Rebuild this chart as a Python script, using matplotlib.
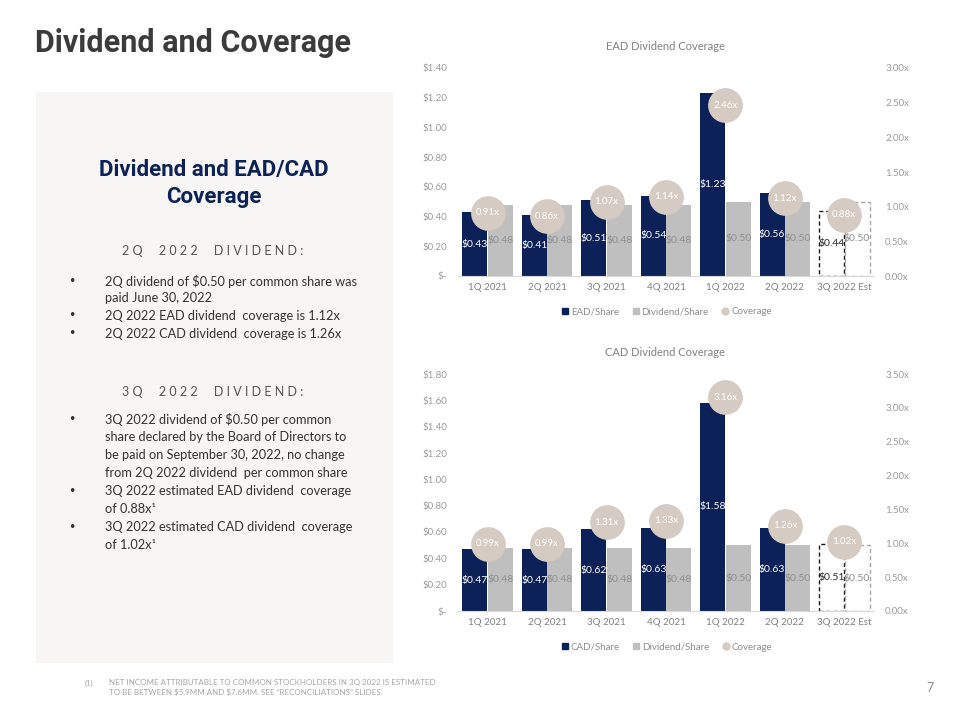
import matplotlib
matplotlib.use("Agg")
import matplotlib.pyplot as plt
from matplotlib.patches import Rectangle
from matplotlib.lines import Line2D

# ---- data ----
quarters = ["1Q 2021", "2Q 2021", "3Q 2021", "4Q 2021", "1Q 2022", "2Q 2022", "3Q 2022 Est"]
dividend_share = [0.48, 0.48, 0.48, 0.48, 0.50, 0.50, 0.50]
ead_share = [0.43, 0.41, 0.51, 0.54, 1.23, 0.56, 0.44]
ead_coverage = [0.91, 0.86, 1.07, 1.14, 2.46, 1.12, 0.88]
cad_share = [0.47, 0.47, 0.62, 0.63, 1.58, 0.63, 0.51]
cad_coverage = [0.99, 0.99, 1.31, 1.33, 3.16, 1.26, 1.02]

NAVY = "#0c2157"
GREY_BAR = "#bfbfbf"
BEIGE = "#d6cbc2"
TICK_GREY = "#9a9a9a"

W, H = 960, 720


def fx(x):
    return x / W


def fy(y):
    return 1 - y / H


fig = plt.figure(figsize=(9.6, 7.2), dpi=100)
fig.patch.set_facecolor("white")

# ---- slide title ----
fig.text(fx(35), fy(43), "Dividend and Coverage", fontsize=22, fontweight="bold",
         family="Roboto", color="#3b3b3b", va="center", ha="left")

# ---- left text panel ----
fig.patches.append(Rectangle((fx(36), fy(663)), fx(393) - fx(36), fy(92) - fy(663),
                             transform=fig.transFigure, facecolor="#f7f6f4",
                             edgecolor="none", zorder=0))

fig.text(fx(214), fy(170), "Dividend and EAD/CAD", fontsize=16, fontweight="bold",
         family="Roboto", color=NAVY, ha="center", va="center")
fig.text(fx(214), fy(197), "Coverage", fontsize=16, fontweight="bold",
         family="Roboto", color=NAVY, ha="center", va="center")


def spaced(s):
    return " ".join(s).replace("   ", "     ")


fig.text(fx(213), fy(251), spaced("2Q 2022 DIVIDEND:"), fontsize=9, family="Lato",
         color="#555555", ha="center", va="center")
fig.text(fx(213), fy(392), spaced("3Q 2022 DIVIDEND:"), fontsize=9, family="Lato",
         color="#555555", ha="center", va="center")

bullets_top = [
    (282, "2Q dividend of \\$0.50 per common share was", True),
    (298, "paid June 30, 2022", False),
    (316, "2Q 2022 EAD dividend  coverage is 1.12x", True),
    (334, "2Q 2022 CAD dividend  coverage is 1.26x", True),
]
bullets_bottom = [
    (419, "3Q 2022 dividend of \\$0.50 per common", True),
    (437, "share declared by the Board of Directors to", False),
    (455, "be paid on September 30, 2022, no change", False),
    (473, "from 2Q 2022 dividend  per common share", False),
    (491, "3Q 2022 estimated EAD dividend  coverage", True),
    (509, "of 0.88x\u00b9", False),
    (527, "3Q 2022 estimated CAD dividend  coverage", True),
    (545, "of 1.02x\u00b9", False),
]
for y, line, has_bullet in bullets_top + bullets_bottom:
    if has_bullet:
        fig.text(fx(72), fy(y), "\u2022", fontsize=9, color="#333333",
                 ha="center", va="center", family="DejaVu Sans")
    fig.text(fx(105), fy(y), line, fontsize=9.2, family="Lato", color="#333333",
             ha="left", va="center")

# ---- footnote & page number ----
fig.text(fx(85), fy(683), "(1)", fontsize=5.4, family="Lato", color="#a6a6a6", va="center")
fig.text(fx(109), fy(683), "NET INCOME ATTRIBUTABLE TO COMMON STOCKHOLDERS IN 3Q 2022 IS ESTIMATED",
         fontsize=5.8, family="Lato", color="#a6a6a6", va="center")
fig.text(fx(109), fy(692), "TO BE BETWEEN \\$5.9MM AND \\$7.6MM. SEE \u201cRECONCILIATIONS\u201d SLIDES.",
         fontsize=5.8, family="Lato", color="#a6a6a6", va="center")
fig.text(fx(930), fy(688), "7", fontsize=9, family="Lato", color="#8c8c8c",
         ha="center", va="center")


def coverage_chart(top_px, bottom_px, title, share, coverage, label, ymax, cov_max):
    ax = fig.add_axes([fx(458), fy(bottom_px), fx(874) - fx(458), fy(top_px) - fy(bottom_px)])
    axr = ax.twinx()
    n = len(quarters)
    xs = list(range(n))
    width = 0.42
    off = 0.215
    for i in xs:
        est = i == n - 1
        if est:
            ax.bar(i - off, share[i], width, fill=False, edgecolor="#1a1a1a",
                   linestyle=(0, (3, 2)), linewidth=1)
            ax.bar(i + off, dividend_share[i], width, fill=False, edgecolor="#a6a6a6",
                   linestyle=(0, (3, 2)), linewidth=1)
            c1, c2 = "#262626", "#8c8c8c"
        else:
            ax.bar(i - off, share[i], width, color=NAVY)
            ax.bar(i + off, dividend_share[i], width, color=GREY_BAR)
            c1, c2 = "white", "#8f8f8f"
        ax.text(i - off, share[i] / 2, f"${share[i]:.2f}", ha="center", va="center",
                fontsize=7.5, family="Lato", color=c1)
        ax.text(i + off, dividend_share[i] / 2, f"${dividend_share[i]:.2f}", ha="center",
                va="center", fontsize=7.5, family="Lato", color=c2)

    axr.plot(xs, coverage, linestyle="none", marker="o", markersize=24,
             markerfacecolor=BEIGE, markeredgecolor=BEIGE)
    for i, c in enumerate(coverage):
        axr.text(i, c, f"{c:.2f}x", ha="center", va="center", fontsize=7,
                 family="Lato", color="white")

    ax.set_xlim(-0.5, n - 0.5)
    ax.set_ylim(0, ymax)
    axr.set_ylim(0, cov_max)
    yt = [round(0.2 * k, 2) for k in range(int(round(ymax / 0.2)) + 1)]
    ax.set_yticks(yt)
    ax.set_yticklabels(["$-"] + [f"${v:.2f}" for v in yt[1:]])
    rt = [round(0.5 * k, 2) for k in range(int(round(cov_max / 0.5)) + 1)]
    axr.set_yticks(rt)
    axr.set_yticklabels([f"{v:.2f}x" for v in rt])
    ax.set_xticks(xs)
    ax.set_xticklabels(quarters)

    for a in (ax, axr):
        for s in a.spines.values():
            s.set_visible(False)
        a.set_facecolor("none")
    ax.spines["bottom"].set_visible(True)
    ax.spines["bottom"].set_color("#d9d9d9")
    ax.tick_params(axis="y", length=0, pad=8, labelsize=7, labelcolor=TICK_GREY)
    ax.tick_params(axis="x", length=0, pad=5, labelsize=7, labelcolor="#7f7f7f")
    axr.tick_params(axis="y", length=0, pad=8, labelsize=7, labelcolor=TICK_GREY)
    for t in ax.get_xticklabels() + ax.get_yticklabels() + axr.get_yticklabels():
        t.set_family("Lato")

    fig.text(fx(665), fy(top_px - 22), title, ha="center", va="center", fontsize=8,
             family="Lato", color="#7f7f7f")

    handles = [
        Line2D([], [], marker="s", ls="", color=NAVY, markersize=5),
        Line2D([], [], marker="s", ls="", color=GREY_BAR, markersize=5),
        Line2D([], [], marker="o", ls="", color=BEIGE, markersize=5),
    ]
    leg = fig.legend(handles, [label, "Dividend/Share", "Coverage"], loc="center",
                     bbox_to_anchor=(fx(666), fy(bottom_px + 36)), ncol=3, frameon=False,
                     prop={"family": "Lato", "size": 7}, handletextpad=0.1,
                     columnspacing=1.2, handlelength=1.0)
    for t in leg.get_texts():
        t.set_color("#8c8c8c")


coverage_chart(68, 276, "EAD Dividend Coverage", ead_share, ead_coverage,
               "EAD/Share", 1.40, 3.0)
coverage_chart(374, 611, "CAD Dividend Coverage", cad_share, cad_coverage,
               "CAD/Share", 1.80, 3.5)

fig.savefig("out.png", dpi=100, facecolor="white")
